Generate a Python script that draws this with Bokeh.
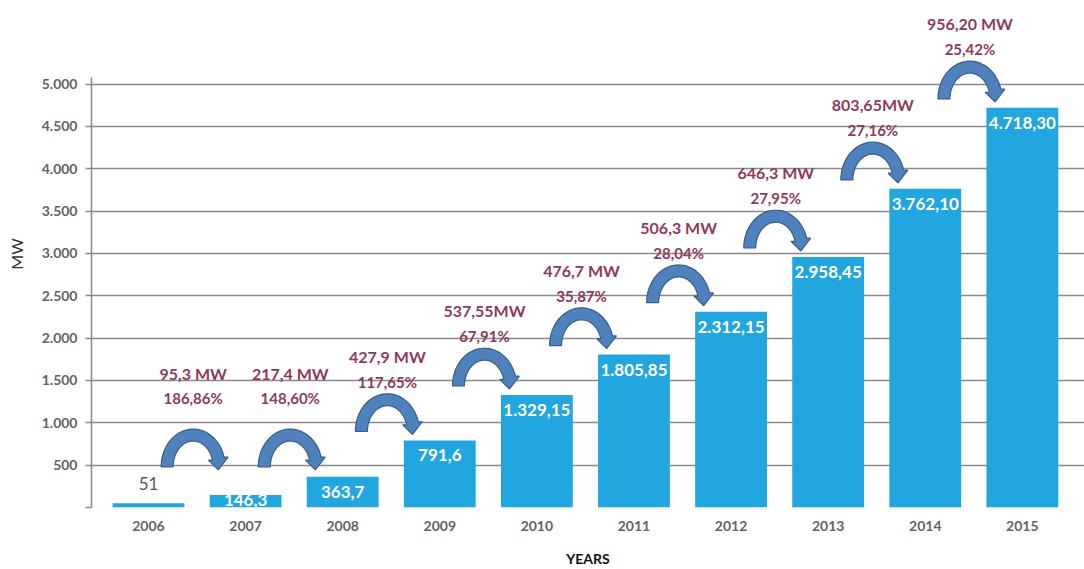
from bokeh.plotting import figure
from bokeh.models import Range1d, FixedTicker, ColumnDataSource
from bokeh.core.properties import value
from bokeh.embed import file_html
from bokeh.resources import INLINE
import math

# ---------------- data ----------------
years = ["2006", "2007", "2008", "2009", "2010", "2011", "2012", "2013", "2014", "2015"]
capacity = [51, 146.3, 363.7, 791.6, 1329.15, 1805.85, 2312.15, 2958.45, 3762.10, 4718.30]
capacity_labels = ["51", "146,3", "363,7", "791,6", "1.329,15", "1.805,85",
                   "2.312,15", "2.958,45", "3.762,10", "4.718,30"]
increase_labels = ["95,3 MW", "217,4 MW", "427,9 MW", "537,55MW", "476,7 MW",
                   "506,3 MW", "646,3 MW", "803,65MW", "956,20 MW"]
growth_labels = ["186,86%", "148,60%", "117,65%", "67,91%", "35,87%",
                 "28,04%", "27,95%", "27,16%", "25,42%"]
y_ticks = [0, 500, 1000, 1500, 2000, 2500, 3000, 3500, 4000, 4500, 5000]
y_tick_labels = ["", "500", "1.000", "1.500", "2.000", "2.500", "3.000",
                 "3.500", "4.000", "4.500", "5.000"]

# ---------------- layout ----------------
W, H = 1084, 569
B_LEFT, B_RIGHT, B_TOP, B_BOTTOM = 91, 0, 0, 59
X0, X1 = -0.587, 9.64
Y0, Y1 = 0, 5986
frame_w = W - B_LEFT - B_RIGHT
frame_h = H - B_TOP - B_BOTTOM
px_x = frame_w / (X1 - X0)
px_y = frame_h / (Y1 - Y0)

BAR = "#22a6df"
ARROW_FILL = "#4f81bd"
ARROW_LINE = "#385d8a"
ANN = "#8e3a5c"
GRID = "#8a8a8a"
TICK_TXT = "#636363"
FONT = "Lato"

p = figure(width=W, height=H, x_range=Range1d(X0, X1), y_range=Range1d(Y0, Y1),
           output_backend="svg", toolbar_location=None,
           min_border_left=B_LEFT, min_border_right=B_RIGHT,
           min_border_top=B_TOP, min_border_bottom=B_BOTTOM)
p.outline_line_color = None
p.background_fill_color = "white"
p.border_fill_color = "white"

# y axis / grid
yt = FixedTicker(ticks=y_ticks)
p.yaxis.ticker = yt
p.ygrid.ticker = yt
p.yaxis.major_label_overrides = {t: l for t, l in zip(y_ticks, y_tick_labels)}
p.yaxis.bounds = (0, 5080)
p.yaxis.axis_line_color = GRID
p.yaxis.axis_line_width = 1.5
p.yaxis.major_tick_line_color = GRID
p.yaxis.major_tick_line_width = 1.5
p.yaxis.major_tick_out = 6
p.yaxis.major_tick_in = 0
p.yaxis.minor_tick_line_color = None
p.yaxis.major_label_text_font = FONT
p.yaxis.major_label_text_font_size = "14px"
p.yaxis.major_label_text_font_style = "bold"
p.yaxis.major_label_text_color = TICK_TXT
p.yaxis.major_label_standoff = 8
p.yaxis.axis_label = "MW"
p.yaxis.axis_label_text_font = FONT
p.yaxis.axis_label_text_font_size = "16px"
p.yaxis.axis_label_text_font_style = "normal"
p.yaxis.axis_label_text_color = "#333333"
p.yaxis.axis_label_standoff = 13

p.ygrid.grid_line_color = GRID
p.ygrid.grid_line_width = 1.6
p.xgrid.visible = False

# x axis
idx = list(range(len(years)))
p.xaxis.ticker = FixedTicker(ticks=idx)
p.xaxis.major_label_overrides = {i: y for i, y in zip(idx, years)}
p.xaxis.axis_line_color = None
p.xaxis.major_tick_line_color = None
p.xaxis.minor_tick_line_color = None
p.xaxis.major_label_text_font = FONT
p.xaxis.major_label_text_font_size = "14px"
p.xaxis.major_label_text_font_style = "bold"
p.xaxis.major_label_text_color = TICK_TXT
p.xaxis.major_label_standoff = 7
p.xaxis.axis_label = "YEARS"
p.xaxis.axis_label_text_font = FONT
p.xaxis.axis_label_text_font_size = "14px"
p.xaxis.axis_label_text_font_style = "bold"
p.xaxis.axis_label_text_color = "#111111"
p.xaxis.axis_label_standoff = 16

# bars
p.vbar(x=idx, top=capacity, width=0.74, fill_color=BAR, line_color=None)

# bar labels
ins_x, ins_y, ins_t, ins_off = [], [], [], []
out_x, out_y, out_t = [], [], []
for i, v in enumerate(capacity):
    bar_px = v * px_y
    if bar_px >= 10:
        ins_x.append(i); ins_y.append(v); ins_t.append(capacity_labels[i])
        ins_off.append(min(15, bar_px - 8))
    else:
        out_x.append(i); out_y.append(v); out_t.append(capacity_labels[i])

p.text(x="x", y="y", text="t", y_offset="off",
       source=ColumnDataSource(dict(x=ins_x, y=ins_y, t=ins_t, off=ins_off)),
       text_align="center", text_baseline="middle", text_color="white",
       text_font=value(FONT), text_font_size="17px", text_font_style="bold")
p.text(x=out_x, y=out_y, text=out_t, y_offset=-20,
       text_align="center", text_baseline="middle", text_color="#595959",
       text_font=value(FONT), text_font_size="17px", text_font_style="normal")

# curved arrows between bars
A_O, B_O, A_I, B_I = 32.0, 38.0, 20.0, 26.0
TH = 15.0


def arrow_shape():
    pts = []
    n = 30
    for k in range(n + 1):
        t = math.radians(180 - (180 - TH) * k / n)
        pts.append((A_O * math.cos(t), B_O * math.sin(t)))
    th = math.radians(TH)
    pts.append((A_O * math.cos(th) + 4, B_O * math.sin(th)))
    pts.append(((A_O + A_I) / 2 * math.cos(th), -3))
    pts.append((A_I * math.cos(th) - 4, B_I * math.sin(th)))
    for k in range(n + 1):
        t = math.radians(TH + (180 - TH) * k / n)
        pts.append((A_I * math.cos(t), B_I * math.sin(t)))
    return pts


shape = arrow_shape()
axs, ays, cxs, tbs = [], [], [], []
for i in range(len(years) - 1):
    cx = i + 0.46
    base = max(capacity[i + 1] + 9 / px_y, 480)
    axs.append([cx + dx / px_x for dx, dy in shape])
    ays.append([base + dy / px_y for dx, dy in shape])
    cxs.append(cx)
    tbs.append(max(base, 700))

p.patches(axs, ays, fill_color=ARROW_FILL, line_color=ARROW_LINE, line_width=1.2)

p.text(x=cxs, y=tbs, text=growth_labels, y_offset=-50,
       text_align="center", text_baseline="middle", text_color=ANN,
       text_font=value(FONT), text_font_size="15px", text_font_style="bold")
p.text(x=cxs, y=tbs, text=increase_labels, y_offset=-75,
       text_align="center", text_baseline="middle", text_color=ANN,
       text_font=value(FONT), text_font_size="16px", text_font_style="bold")

open("out.html", "w").write(file_html(p, INLINE))
